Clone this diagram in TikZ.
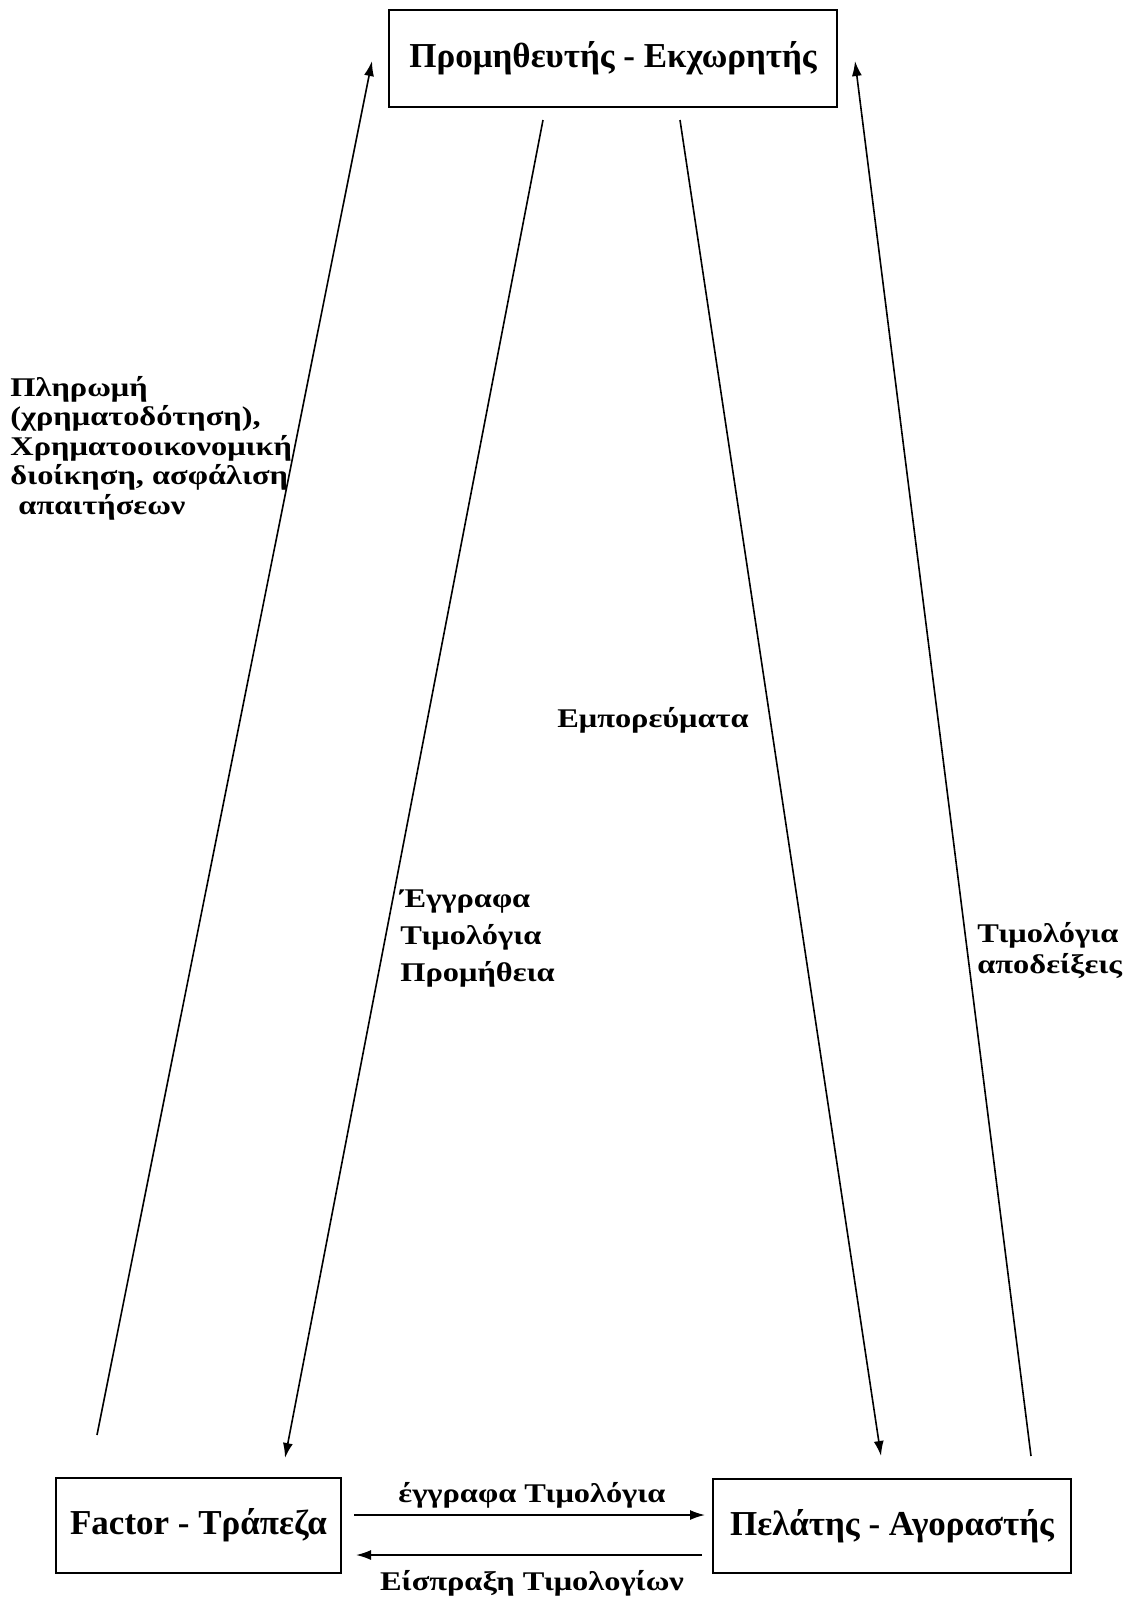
\documentclass[tikz,border=0pt]{standalone}
\usepackage{fontspec}
\setmainfont{Liberation Serif}
\newfontfamily\widefont[FakeStretch=1.2]{Liberation Serif}
\usetikzlibrary{arrows.meta}

\tikzset{
	box/.style={draw, line width=1.1pt, inner sep=0pt, font=\bfseries\fontsize{17.5}{20}\selectfont},
	lbl/.style={inner sep=0pt, align=left, font=\widefont\bfseries\fontsize{13.5}{15}\selectfont},
	flow/.style={line width=0.8pt, -{Latex[length=7.5pt,width=5pt]}}
}

\begin{document}
\begin{tikzpicture}[x=0.5pt, y=-0.5pt]
	
	\useasboundingbox (0,0) rectangle (1128,1597);
	
	\node[box, minimum width=224pt, minimum height=48.5pt] (supplier) at (613,58.5) {Προμηθευτής - Εκχωρητής};
	\node[box, minimum width=142.5pt, minimum height=47.5pt] (factor) at (198.5,1525.5) {Factor - Τράπεζα};
	\node[box, minimum width=179pt, minimum height=47pt] (buyer) at (892,1526) {Πελάτης - Αγοραστής};
	
	
	\coordinate (f1) at (97,1435);   \coordinate (s1) at (372,61);
	\coordinate (s2) at (543,120);   \coordinate (f2) at (285,1458);
	\coordinate (s3) at (680,120);   \coordinate (b3) at (881,1456);
	\coordinate (b4) at (1031,1456); \coordinate (s4) at (855,61);
	\coordinate (f5) at (354,1515);  \coordinate (b5) at (705,1515);
	\coordinate (b6) at (702,1555);  \coordinate (f6) at (356,1555);
	
	\draw[flow] (f1) -- (s1);
	\draw[flow] (s2) -- (f2);
	\draw[flow] (s3) -- (b3);
	\draw[flow] (b4) -- (s4);
	\draw[flow] (f5) -- (b5);
	\draw[flow] (b6) -- (f6);
	
	
	\node[lbl, anchor=west, font=\widefont\bfseries\fontsize{13.5}{14.75}\selectfont] (payment) at (10,448) {Πληρωμή\\(χρηματοδότηση),\\Χρηματοοικονομική\\διοίκηση, ασφάλιση\\\ απαιτήσεων};
	\node[lbl] (goods) at (653,720) {Εμπορεύματα};
	\node[lbl, anchor=west, font=\widefont\bfseries\fontsize{13.5}{18.5}\selectfont] (papers) at (400,939) {Έγγραφα\\Τιμολόγια\\Προμήθεια};
	\node[lbl, anchor=west, font=\widefont\bfseries\fontsize{13.5}{15.5}\selectfont] (receipts) at (977,951) {Τιμολόγια\\αποδείξεις};
	\node[lbl] (invoices) at (532,1495) {έγγραφα Τιμολόγια};
	\node[lbl] (collect) at (532,1583) {Είσπραξη Τιμολογίων};
	
\end{tikzpicture}
\end{document}
